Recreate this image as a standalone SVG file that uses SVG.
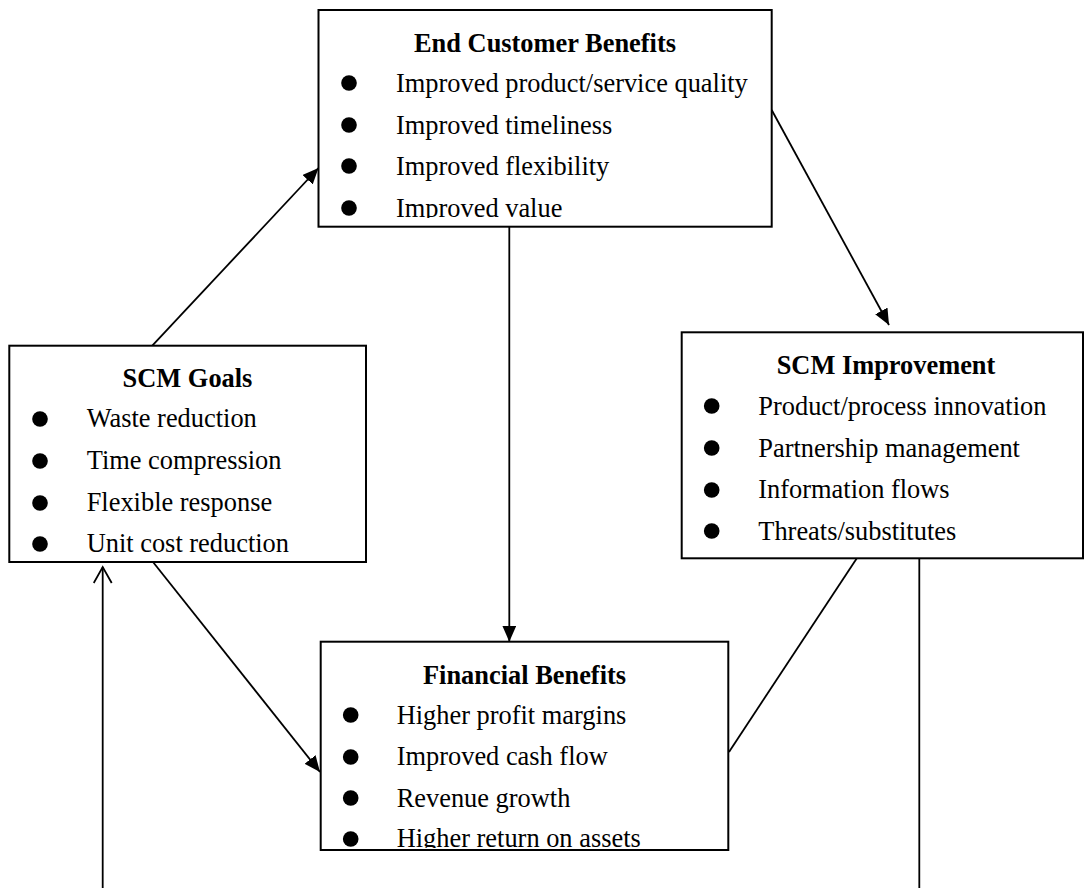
<svg xmlns="http://www.w3.org/2000/svg" width="1086" height="888" viewBox="0 0 1086 888">
  <style>
    .box { fill: #ffffff; stroke: #000000; stroke-width: 2; }
    .title { font-family: "Liberation Serif", "Times New Roman", serif; font-size: 26.4px; font-weight: bold; fill: #000000; text-anchor: middle; }
    .item { font-family: "Liberation Serif", "Times New Roman", serif; font-size: 26.4px; fill: #000000; }
    .dot { fill: #000000; }
    .link { stroke: #000000; stroke-width: 1.8; fill: none; }
  </style>
  <defs>
    <marker id="solid" markerUnits="userSpaceOnUse" markerWidth="17" markerHeight="15" refX="16" refY="7" orient="auto">
      <path d="M0,0 L16,7 L0,14 Z" fill="#000000"/>
    </marker>
    <marker id="open" markerUnits="userSpaceOnUse" markerWidth="20" markerHeight="22" refX="17" refY="10" orient="auto">
      <path d="M1,1 L17,10 L1,19" fill="none" stroke="#000000" stroke-width="1.8"/>
    </marker>
    <clipPath id="clip-ecb"><rect x="319" y="11" width="452" height="207"/></clipPath>
    <clipPath id="clip-fin"><rect x="321" y="642" width="407" height="206"/></clipPath>
  </defs>

  <!-- connectors -->
  <g id="connectors">
    <line class="link" x1="152.3" y1="345.7" x2="318.5" y2="168" marker-end="url(#solid)"/>
    <line class="link" x1="771.7" y1="110" x2="889" y2="325" marker-end="url(#solid)"/>
    <line class="link" x1="509.3" y1="227" x2="509.3" y2="641.7" marker-end="url(#solid)"/>
    <line class="link" x1="153" y1="562" x2="320" y2="772" marker-end="url(#solid)"/>
    <line class="link" x1="857" y1="558" x2="729" y2="752"/>
    <line class="link" x1="919.3" y1="558" x2="919.3" y2="888"/>
    <line class="link" x1="102.7" y1="888" x2="102.7" y2="567" marker-end="url(#open)"/>
  </g>

  <!-- End Customer Benefits -->
  <g id="end-customer-benefits">
    <rect class="box" x="318.5" y="10" width="453.2" height="216.7"/>
    <text class="title" x="545" y="52">End Customer Benefits</text>
    <g clip-path="url(#clip-ecb)">
      <circle class="dot" cx="349" cy="83" r="7.8"/>
      <text class="item" x="396" y="92">Improved product/service quality</text>
      <circle class="dot" cx="349" cy="125" r="7.8"/>
      <text class="item" x="396" y="134">Improved timeliness</text>
      <circle class="dot" cx="349" cy="166" r="7.8"/>
      <text class="item" x="396" y="175">Improved flexibility</text>
      <circle class="dot" cx="349" cy="208" r="7.8"/>
      <text class="item" x="396" y="217">Improved value</text>
    </g>
  </g>

  <!-- SCM Goals -->
  <g id="scm-goals">
    <rect class="box" x="9.3" y="345.7" width="356.7" height="216.3"/>
    <text class="title" x="187.5" y="386.7">SCM Goals</text>
    <circle class="dot" cx="40" cy="419" r="7.8"/>
    <text class="item" x="86.7" y="427.3">Waste reduction</text>
    <circle class="dot" cx="40" cy="461" r="7.8"/>
    <text class="item" x="86.7" y="469.3">Time compression</text>
    <circle class="dot" cx="40" cy="503" r="7.8"/>
    <text class="item" x="86.7" y="511.3">Flexible response</text>
    <circle class="dot" cx="40" cy="544" r="7.8"/>
    <text class="item" x="86.7" y="552">Unit cost reduction</text>
  </g>

  <!-- SCM Improvement -->
  <g id="scm-improvement">
    <rect class="box" x="681.7" y="332.3" width="401.3" height="226"/>
    <text class="title" x="886" y="373.5">SCM Improvement</text>
    <circle class="dot" cx="711.7" cy="406" r="7.8"/>
    <text class="item" x="758.3" y="415">Product/process innovation</text>
    <circle class="dot" cx="711.7" cy="448" r="7.8"/>
    <text class="item" x="758.3" y="456.7">Partnership management</text>
    <circle class="dot" cx="711.7" cy="490" r="7.8"/>
    <text class="item" x="758.3" y="498.3">Information flows</text>
    <circle class="dot" cx="711.7" cy="531" r="7.8"/>
    <text class="item" x="758.3" y="540">Threats/substitutes</text>
  </g>

  <!-- Financial Benefits -->
  <g id="financial-benefits">
    <rect class="box" x="320.7" y="641.7" width="407.6" height="208.3"/>
    <text class="title" x="524.5" y="683.5">Financial Benefits</text>
    <g clip-path="url(#clip-fin)">
      <circle class="dot" cx="350.7" cy="715" r="7.8"/>
      <text class="item" x="396.7" y="723.5">Higher profit margins</text>
      <circle class="dot" cx="350.7" cy="757" r="7.8"/>
      <text class="item" x="396.7" y="765">Improved cash flow</text>
      <circle class="dot" cx="350.7" cy="798" r="7.8"/>
      <text class="item" x="396.7" y="806.5">Revenue growth</text>
      <circle class="dot" cx="350.7" cy="839" r="7.8"/>
      <text class="item" x="396.7" y="847">Higher return on assets</text>
    </g>
  </g>
</svg>
